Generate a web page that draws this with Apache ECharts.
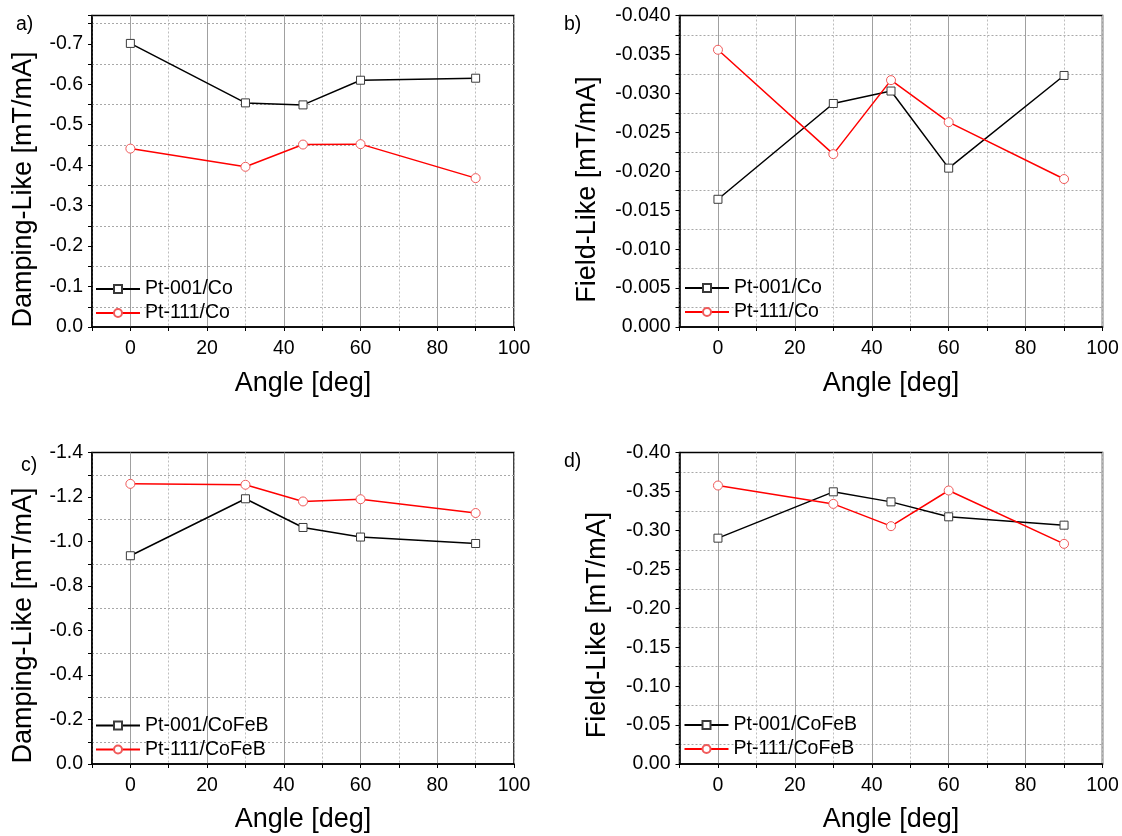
<!DOCTYPE html>
<html>
<head>
<meta charset="utf-8">
<script src="https://cdn.jsdelivr.net/npm/echarts@6/dist/echarts.min.js"></script>
<style>
html,body{margin:0;padding:0;background:#fff;}
#chart{width:1122px;height:836px;}
</style>
</head>
<body>
<div id="chart"></div>
<script>
// ---- data ----
const angles = [0, 30, 45, 60, 90];
const dampCo001 = [-0.701, -0.554, -0.549, -0.610, -0.615];
const dampCo111 = [-0.441, -0.396, -0.451, -0.452, -0.368];
const fieldCo001 = [-0.0164, -0.0287, -0.0303, -0.0204, -0.0323];
const fieldCo111 = [-0.0356, -0.0222, -0.0317, -0.0263, -0.0190];
const dampCoFeB001 = [-0.936, -1.192, -1.063, -1.020, -0.991];
const dampCoFeB111 = [-1.259, -1.255, -1.180, -1.190, -1.128];
const fieldCoFeB001 = [-0.290, -0.3495, -0.3366, -0.3174, -0.3067];
const fieldCoFeB111 = [-0.3576, -0.334, -0.3054, -0.3512, -0.2827];

const xTickLabels = [0, 20, 40, 60, 80, 100];
const yTicksA = [0, -0.1, -0.2, -0.3, -0.4, -0.5, -0.6, -0.7];
const yTicksB = [0, -0.005, -0.010, -0.015, -0.020, -0.025, -0.030, -0.035, -0.040];
const yTicksC = [0, -0.2, -0.4, -0.6, -0.8, -1.0, -1.2, -1.4];
const yTicksD = [0, -0.05, -0.10, -0.15, -0.20, -0.25, -0.30, -0.35, -0.40];

const FONT = 'Liberation Sans, Arial, sans-serif';

const panels = [
  {grid:{left:92, top:15.5, width:422, height:311.5}, yMin:-0.77, half:0.05, ticks:yTicksA, dec:1, useNice:true,
   s:[['Pt-001/Co', dampCo001], ['Pt-111/Co', dampCo111]], legend:{left:95, top:279},
   yTitle:'Damping-Like [mT/mA]', yTitlePos:[23.5,189.5], xTitlePos:[303,384], tag:'a)', tagPos:[16,25]},
  {grid:{left:679.5, top:15.5, width:423, height:311.5}, yMin:-0.040, half:0.0025, ticks:yTicksB, dec:3,
   s:[['Pt-001/Co', fieldCo001], ['Pt-111/Co', fieldCo111]], legend:{left:684, top:278},
   yTitle:'Field-Like [mT/mA]', yTitlePos:[587.5,189.5], xTitlePos:[891,384], tag:'b)', tagPos:[564,25]},
  {grid:{left:92, top:452.5, width:422, height:311.5}, yMin:-1.4, half:0.1, ticks:yTicksC, dec:1,
   s:[['Pt-001/CoFeB', dampCoFeB001], ['Pt-111/CoFeB', dampCoFeB111]], legend:{left:95, top:715.5},
   yTitle:'Damping-Like [mT/mA]', yTitlePos:[23.5,625.5], xTitlePos:[303,820], tag:'c)', tagPos:[21,466]},
  {grid:{left:679.5, top:452.5, width:423, height:311.5}, yMin:-0.40, half:0.025, ticks:yTicksD, dec:2,
   s:[['Pt-001/CoFeB', fieldCoFeB001], ['Pt-111/CoFeB', fieldCoFeB111]], legend:{left:683.5, top:715},
   yTitle:'Field-Like [mT/mA]', yTitlePos:[597.5,625], xTitlePos:[891,820], tag:'d)', tagPos:[564,462]}
];

const grids = [], xAxes = [], yAxes = [], series = [], legends = [], graphics = [];

panels.forEach((p, gi) => {
  grids.push(Object.assign({show:true, borderColor:'#000', borderWidth:1.5, backgroundColor:'#fff'}, p.grid));
  // main x axis
  xAxes.push({
    gridIndex: gi, type:'value', min:-10, max:100, interval:10,
    axisLine:{show:true, onZero:false, lineStyle:{color:'#000', width:1.5}},
    axisTick:{show:true, inside:false, length:4, lineStyle:{color:'#000', width:1}},
    axisLabel:{margin:12, fontSize:19.5, color:'#000', fontFamily:FONT,
      formatter: v => xTickLabels.includes(Math.round(v)) && Math.abs(v - Math.round(v)) < 1e-6 ? String(Math.round(v)) : ''},
    splitLine:{show:true, lineStyle:{color:['rgba(0,0,0,0)', '#a0a0a0'], width:1, type:'solid'}}
  });
  // helper x axis for dotted vertical grid lines at odd tens
  xAxes.push({
    gridIndex: gi, type:'value', min:-10, max:100, interval:20, position:'bottom',
    axisLine:{show:false}, axisTick:{show:false}, axisLabel:{show:false},
    splitLine:{show:true, lineStyle:{color:'#bdbdbd', width:1, type:[2,2]}}
  });
  const yAx = {
    gridIndex: gi, type:'value', inverse:true, min:p.yMin, max:0,
    axisLine:{show:true, onZero:false, lineStyle:{color:'#000', width:1.5}},
    axisTick:{show:true, inside:false, length:4, lineStyle:{color:'#000', width:1}},
    axisLabel:{margin:9, fontSize:19.5, color:'#000', fontFamily:FONT,
      formatter: v => {
        for (const t of p.ticks) { if (Math.abs(v - t) < p.half * 1e-3) return (t === 0 ? 0 : t).toFixed(p.dec); }
        return '';
      }},
    splitLine:{show:true, lineStyle:{color:['rgba(0,0,0,0)', '#a8a8a8'], width:1, type:[2,2]}}
  };
  if (p.useNice) { yAx.minInterval = p.half; yAx.maxInterval = p.half; yAx.splitNumber = 16; }
  else { yAx.interval = p.half; }
  yAxes.push(yAx);

  p.s.forEach(([name, vals], k) => {
    const black = k === 0;
    series.push({
      name, type:'line', xAxisIndex: gi*2, yAxisIndex: gi,
      data: angles.map((a, i) => [a, vals[i]]),
      symbol: black ? 'rect' : 'circle', symbolSize: black ? 8 : 9,
      showAllSymbol:true,
      lineStyle:{color: black ? '#000' : '#ff0000', width:1.5},
      itemStyle:{color:'#fff', borderColor: black ? '#3a3a3a' : '#f05a5a', borderWidth:1},
      emphasis:{disabled:true}, silent:true, z: black ? 3 : 4
    });
  });

  legends.push({
    orient:'vertical', left:p.legend.left, top:p.legend.top, padding:0,
    data: p.s.map(s => s[0]), itemWidth:44, itemHeight:10, itemGap:4, selectedMode:false,
    textStyle:{fontSize:19.5, color:'#000', fontFamily:FONT, lineHeight:20}
  });

  graphics.push({type:'text', x:p.yTitlePos[0], y:p.yTitlePos[1], rotation:Math.PI/2,
    style:{text:p.yTitle, fontSize:27, fontFamily:FONT, fill:'#000', align:'center', verticalAlign:'middle'}});
  graphics.push({type:'text', x:p.xTitlePos[0], y:p.xTitlePos[1],
    style:{text:'Angle [deg]', fontSize:27, fontFamily:FONT, fill:'#000', align:'center', verticalAlign:'middle'}});
  graphics.push({type:'text', x:p.tagPos[0], y:p.tagPos[1],
    style:{text:p.tag, fontSize:19.5, fontFamily:FONT, fill:'#000', align:'left', verticalAlign:'middle'}});
});

const chart = echarts.init(document.getElementById('chart'), null, {renderer:'canvas'});
chart.setOption({
  animation:false,
  backgroundColor:'#fff',
  grid: grids, xAxis: xAxes, yAxis: yAxes, series, legend: legends, graphic: graphics
});
</script>
</body>
</html>
